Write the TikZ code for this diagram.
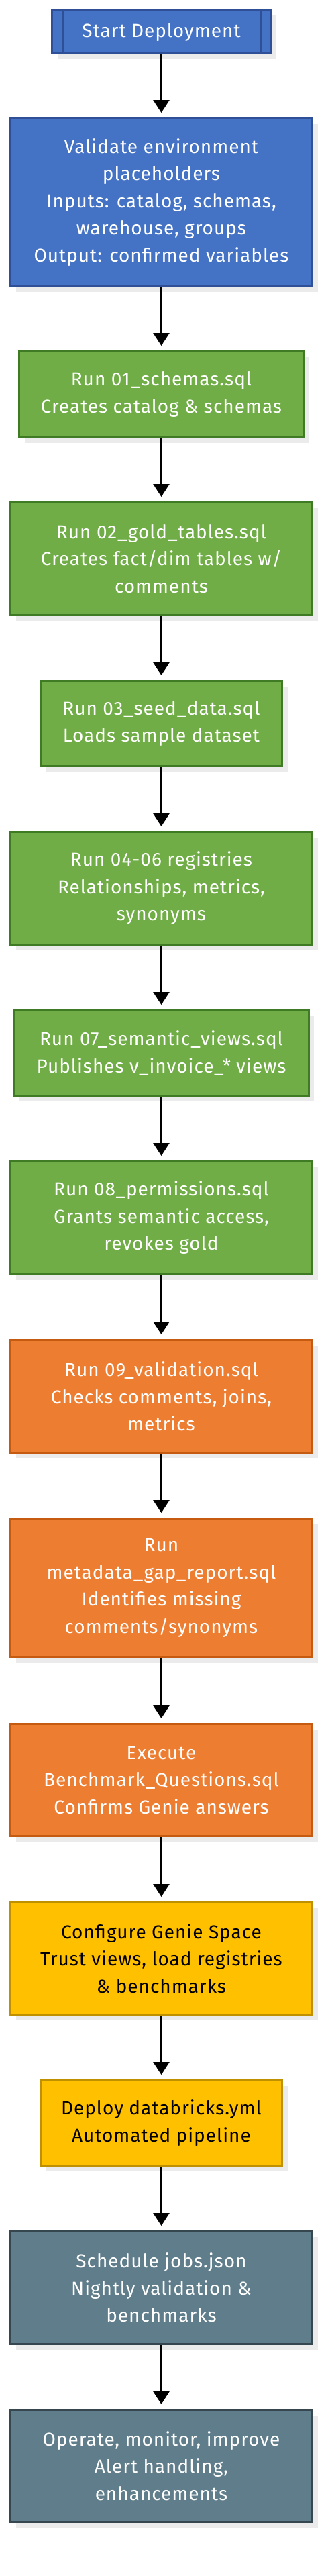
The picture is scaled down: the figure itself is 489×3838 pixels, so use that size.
\documentclass[tikz,border=0pt]{standalone}
\usepackage{fontspec}
\setmainfont{Fira Sans}[LetterSpace=3.5]
\usetikzlibrary{arrows.meta,shadows}
\definecolor{bluefill}{HTML}{4472C4}
\definecolor{blueline}{HTML}{2F4F96}
\definecolor{greenfill}{HTML}{70AD47}
\definecolor{greenline}{HTML}{3F7B24}
\definecolor{orangefill}{HTML}{ED7D31}
\definecolor{orangeline}{HTML}{C55A11}
\definecolor{yellowfill}{HTML}{FFC000}
\definecolor{yellowline}{HTML}{BF9000}
\definecolor{grayfill}{HTML}{607D8B}
\definecolor{grayline}{HTML}{37474F}
\definecolor{shade}{HTML}{EBEBEB}
\begin{document}
\begin{tikzpicture}[x=1pt,y=-1pt,
  box/.style={draw, line width=3pt, inner sep=0pt, align=center,
    font=\fontsize{28}{40.5}\selectfont,
    general shadow={fill=shade, shadow xshift=8pt, shadow yshift=-8pt}},
  bluebox/.style={box, fill=bluefill, draw=blueline, text=white},
  greenbox/.style={box, fill=greenfill, draw=greenline, text=white},
  orangebox/.style={box, fill=orangefill, draw=orangeline, text=white},
  yellowbox/.style={box, fill=yellowfill, draw=yellowline, text=black},
  graybox/.style={box, fill=grayfill, draw=grayline, text=white},
  arr/.style={line width=2.8pt, -{Triangle[width=24pt,length=19pt]}, shorten >=7pt}
]
\useasboundingbox (0,0) rectangle (489,3838);

\node[bluebox, minimum width=326pt, minimum height=64pt] (s) at (240.5,47.5) {Start Deployment};
\draw[blueline, line width=3pt] ([xshift=17pt]s.north west) -- ([xshift=17pt]s.south west);
\draw[blueline, line width=3pt] ([xshift=-17pt]s.north east) -- ([xshift=-17pt]s.south east);

\node[bluebox, minimum width=450pt, minimum height=250pt] (v) at (240.5,301.5)
  {Validate environment\\placeholders\\Inputs: catalog, schemas,\\warehouse, groups\\Output: confirmed variables};

\node[greenbox, minimum width=424pt, minimum height=128pt] (b1) at (240.5,587.5)
  {Run 01\_schemas.sql\\Creates catalog \& schemas};

\node[greenbox, minimum width=450pt, minimum height=168pt] (b2) at (240.5,832.5)
  {Run 02\_gold\_tables.sql\\Creates fact/dim tables w/\\comments};

\node[greenbox, minimum width=360pt, minimum height=127pt] (b3) at (240.5,1078)
  {Run 03\_seed\_data.sql\\Loads sample dataset};

\node[greenbox, minimum width=450pt, minimum height=168pt] (b4) at (240.5,1323.5)
  {Run 04-06 registries\\Relationships, metrics,\\synonyms};

\node[greenbox, minimum width=439pt, minimum height=127pt] (b7) at (240.5,1569)
  {Run 07\_semantic\_views.sql\\Publishes v\_invoice\_* views};

\node[greenbox, minimum width=450pt, minimum height=168pt] (b8) at (240.5,1814.5)
  {Run 08\_permissions.sql\\Grants semantic access,\\revokes gold};

\node[orangebox, minimum width=450pt, minimum height=168pt] (b9) at (240.5,2080.5)
  {Run 09\_validation.sql\\Checks comments, joins,\\metrics};

\node[orangebox, minimum width=450pt, minimum height=207pt] (bm) at (240.5,2366)
  {Run\\metadata\_gap\_report.sql\\Identifies missing\\comments/synonyms};

\node[orangebox, minimum width=450pt, minimum height=167pt] (be) at (240.5,2652)
  {Execute\\Benchmark\_Questions.sql\\Confirms Genie answers};

\node[yellowbox, minimum width=450pt, minimum height=167pt] (bc) at (240.5,2918)
  {Configure Genie Space\\Trust views, load registries\\\& benchmarks};

\node[yellowbox, minimum width=360pt, minimum height=127pt] (bd) at (240.5,3163)
  {Deploy databricks.yml\\Automated pipeline};

\node[graybox, minimum width=450pt, minimum height=168pt] (bs) at (240.5,3408.5)
  {Schedule jobs.json\\Nightly validation \&\\benchmarks};

\node[graybox, minimum width=450pt, minimum height=167pt] (bo) at (240.5,3674)
  {Operate, monitor, improve\\Alert handling,\\enhancements};

\draw[arr] (s) -- (v);
\draw[arr] (v) -- (b1);
\draw[arr] (b1) -- (b2);
\draw[arr] (b2) -- (b3);
\draw[arr] (b3) -- (b4);
\draw[arr] (b4) -- (b7);
\draw[arr] (b7) -- (b8);
\draw[arr] (b8) -- (b9);
\draw[arr] (b9) -- (bm);
\draw[arr] (bm) -- (be);
\draw[arr] (be) -- (bc);
\draw[arr] (bc) -- (bd);
\draw[arr] (bd) -- (bs);
\draw[arr] (bs) -- (bo);
\end{tikzpicture}
\end{document}
